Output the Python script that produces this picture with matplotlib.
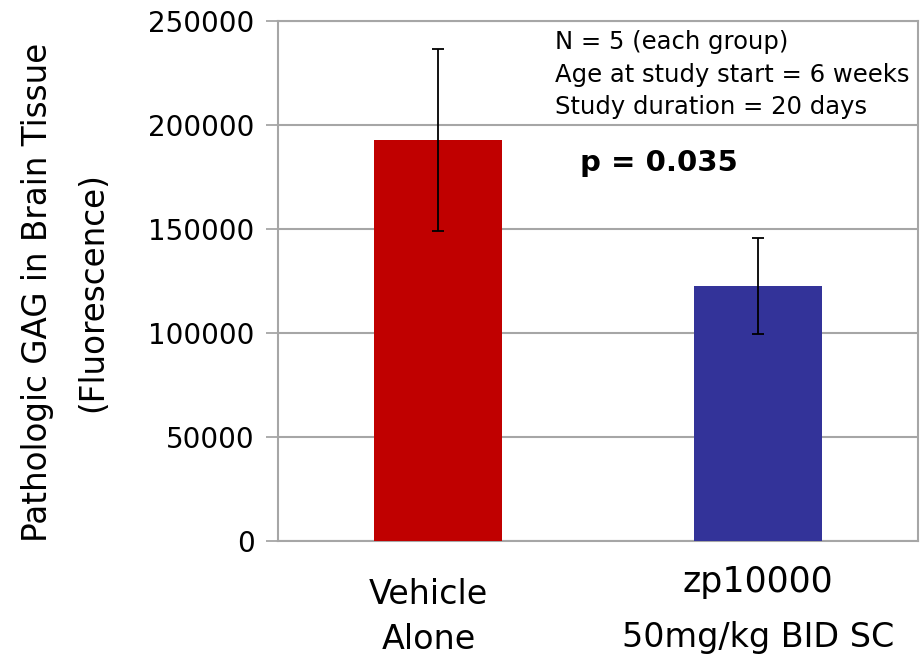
import matplotlib

matplotlib.use("Agg")
import matplotlib.pyplot as plt

plt.rcParams["font.family"] = ["DejaVu Sans"]

GROUPS = ["Vehicle\nAlone", "zp10000"]
DOSE = "50mg/kg BID SC"
MEANS = [192800, 122600]
ERRS = [43700, 23200]
COLORS = ["#c00000", "#333399"]
YTICKS = [0, 50000, 100000, 150000, 200000, 250000]
NOTES = ["N = 5 (each group)", "Age at study start = 6 weeks", "Study duration = 20 days"]
PVAL = "p = 0.035"

GRID = "#a6a6a6"

fig = plt.figure(figsize=(9.23, 6.6), dpi=100)
ax = fig.add_axes([278 / 923, 1 - 541 / 660, 640 / 923, 520 / 660])

x = list(range(len(GROUPS)))
ax.bar(x, MEANS, width=0.4, color=COLORS, zorder=3)
ax.errorbar(x, MEANS, yerr=ERRS, fmt="none", ecolor="black", elinewidth=1.3,
            capsize=4.5, capthick=1.3, zorder=4)

ax.set_xlim(-0.5, 1.5)
ax.set_ylim(0, 250000)
ax.set_yticks(YTICKS)
ax.set_yticklabels([str(v) for v in YTICKS], fontsize=20)
ax.set_xticks([])
ax.tick_params(axis="y", length=9, width=1.3, color=GRID, pad=8)
ax.grid(axis="y", color=GRID, linewidth=1.5, zorder=0)
for s in ax.spines.values():
    s.set_color(GRID)
    s.set_linewidth(1.5)

# category labels under the bars (first one sits a little left of its bar)
xt = ax.get_xaxis_transform()
ax.text(x[0] - 0.03, -0.146, GROUPS[0], transform=xt, ha="center", va="center",
        fontsize=24, linespacing=1.48)
ax.text(x[1], -0.079, GROUPS[1], transform=xt, ha="center", va="center", fontsize=25)
ax.text(x[1], -0.185, DOSE, transform=xt, ha="center", va="center", fontsize=24)

# study notes and p-value
for i, line in enumerate(NOTES):
    ax.text(0.433, 0.96 - i * 0.063, line, transform=ax.transAxes,
            ha="left", va="center", fontsize=17.5)
ax.text(0.472, 0.727, PVAL, transform=ax.transAxes, ha="left", va="center",
        fontsize=21, fontweight="bold")

fig.text(38 / 923, 1 - 292 / 660, "Pathologic GAG in Brain Tissue", rotation=90,
         ha="center", va="center", fontsize=23.5)
fig.text(93 / 923, 1 - 292 / 660, "(Fluorescence)", rotation=90,
         ha="center", va="center", fontsize=23.5)

fig.savefig("out.png", dpi=100, facecolor="white")
